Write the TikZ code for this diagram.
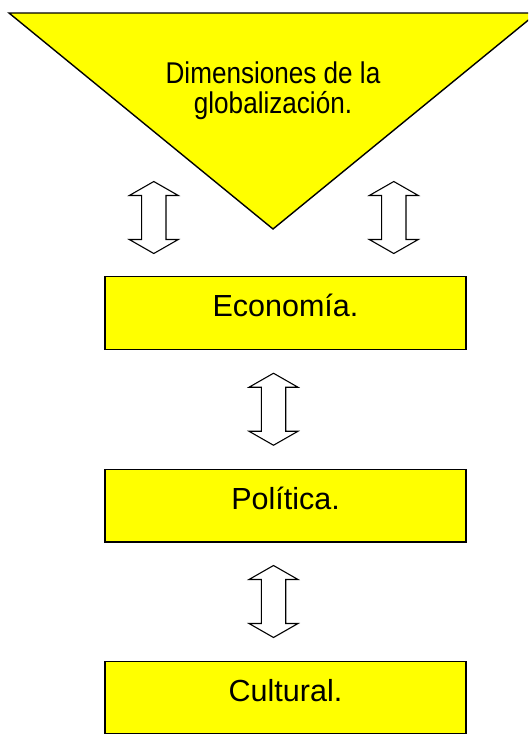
\documentclass[tikz,border=0pt]{standalone}
\usepackage{fontspec}
\setmainfont{Liberation Sans}
\usetikzlibrary{calc}
\definecolor{boxyellow}{RGB}{255,255,0}
\tikzset{
  yellowshape/.style={draw=black, fill=boxyellow, line width=1.4pt, line join=miter},
  dimbox/.style={yellowshape, rectangle, minimum width=361pt, inner xsep=0pt, inner ysep=0pt,
    text height=40pt, text depth=32.5pt, anchor=base, font=\fontsize{30.5}{34}\selectfont},
  titletext/.style={align=center, inner sep=0pt, anchor=north, font=\fontsize{30}{30}\selectfont},
  dblarrow/.pic={\draw[line width=1.1pt, fill=white, line join=miter]
    (0,-36) -- (24.5,-22) -- (12.2,-22) -- (12.2,22) -- (24.5,22) -- (0,36)
    -- (-24.5,22) -- (-12.2,22) -- (-12.2,-22) -- (-24.5,-22) -- cycle;}
}
\begin{document}
\begin{tikzpicture}[x=1pt,y=-1pt]
\useasboundingbox (0,0) rectangle (528,734);
\begin{scope}
  \clip (0,0) rectangle (528,734);
  \coordinate (tl) at (9,13);
  \coordinate (tr) at (537,13);
  \coordinate (apex) at (273,229);
  \draw[yellowshape] (tl) -- (tr) -- (apex) -- cycle;
\end{scope}
\node[titletext] (dim) at (273,61.8)
  {\scalebox{0.87}[1]{Dimensiones de la}\\\scalebox{0.87}[1]{globalización.}};
\node[dimbox] (eco) at (285.5,316.7) {Economía.};
\node[dimbox] (pol) at (285.5,509.3) {Política.};
\node[dimbox] (cul) at (285.5,701.2) {Cultural.};
\pic at (153.8,217.5) {dblarrow};
\pic at (393.8,217.5) {dblarrow};
\pic at ($(eco.south)!0.5!(pol.north)+(-12,0)$) {dblarrow};
\pic at ($(pol.south)!0.5!(cul.north)+(-12,0)$) {dblarrow};
\end{tikzpicture}
\end{document}
